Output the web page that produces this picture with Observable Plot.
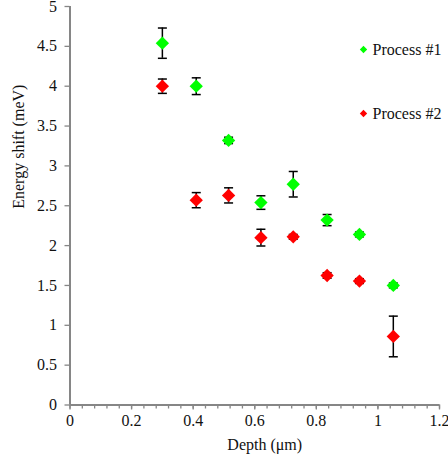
<!DOCTYPE html>
<html><head><meta charset="utf-8">
<script src="https://cdn.jsdelivr.net/npm/d3@7"></script>
<script src="https://cdn.jsdelivr.net/npm/@observablehq/plot@0.6"></script>
<style>body{margin:0;background:#fff}</style>
</head><body><div id="chart"></div>
<script>
const depth = [0.30, 0.41, 0.515, 0.62, 0.725, 0.835, 0.94, 1.05];
const process1 = [4.54, 4.00, 3.32, 2.54, 2.77, 2.32, 2.14, 1.50];
const process1Err = [0.19, 0.105, 0.04, 0.085, 0.16, 0.07, 0.03, 0.03];
const process2 = [4.00, 2.57, 2.63, 2.10, 2.11, 1.625, 1.555, 0.86];
const process2Err = [0.09, 0.095, 0.095, 0.105, 0.03, 0.035, 0.03, 0.255];
const seriesNames = ["Process #1", "Process #2"];
const seriesColors = ["#00ff00", "#ff0000"];
const xTicks = [0, 0.2, 0.4, 0.6, 0.8, 1, 1.2];
const yTicks = [0, 0.5, 1, 1.5, 2, 2.5, 3, 3.5, 4, 4.5, 5];
const xMinorTicks = d3.range(0, 31).map(i => +(i * 0.04).toFixed(2));

const rows = [];
depth.forEach((d, i) => rows.push({depth: d, value: process1[i], err: process1Err[i], series: seriesNames[0]}));
depth.forEach((d, i) => rows.push({depth: d, value: process2[i], err: process2Err[i], series: seriesNames[1]}));

const capSymbol = {draw(ctx, size) { const r = Math.sqrt(size / Math.PI); ctx.moveTo(-r, 0); ctx.lineTo(r, 0); }};
const axisColor = "#868686";
const textColor = "#111";
const font = "'Liberation Serif', 'Times New Roman', serif";

const chart = Plot.plot({
  width: 448, height: 459,
  marginLeft: 69.5, marginRight: 9, marginTop: 6, marginBottom: 54.5,
  style: {fontFamily: font, fontSize: "16px", color: textColor, background: "white", overflow: "visible"},
  x: {domain: [0, 1.2]},
  y: {domain: [0, 5]},
  color: {domain: seriesNames, range: seriesColors},
  marks: [
    Plot.axisX(xMinorTicks, {tickSize: 4, text: null, stroke: axisColor, strokeWidth: 1.3, label: null}),
    Plot.axisX(xTicks, {tickSize: 5, tickPadding: 5, stroke: axisColor, strokeWidth: 1.3, tickFormat: d => String(d), label: null, fill: textColor, fontSize: 16}),
    Plot.axisY(yTicks, {tickSize: 5, tickPadding: 8, stroke: axisColor, strokeWidth: 1.3, tickFormat: d => String(d), label: null, fill: textColor, fontSize: 16}),
    Plot.ruleY([0], {stroke: axisColor, strokeWidth: 2}),
    Plot.ruleX([0], {stroke: axisColor, strokeWidth: 2}),
    Plot.ruleX(rows, {x: "depth", y1: d => d.value - d.err, y2: d => d.value + d.err, stroke: "#000", strokeWidth: 1.5}),
    Plot.dot(rows, {x: "depth", y: d => d.value - d.err, symbol: capSymbol, r: 4.5, stroke: "#000", strokeWidth: 1.5}),
    Plot.dot(rows, {x: "depth", y: d => d.value + d.err, symbol: capSymbol, r: 4.5, stroke: "#000", strokeWidth: 1.5}),
    Plot.dot(rows, {x: "depth", y: "value", fill: "series", symbol: "diamond2", r: 6}),
    Plot.text(["Depth (μm)"], {frameAnchor: "bottom", dx: 10, dy: 40, lineAnchor: "middle", fill: textColor, fontSize: 16}),
    Plot.text(["Energy shift (meV)"], {frameAnchor: "left", dx: -51.5, dy: 3, rotate: -90, lineAnchor: "middle", fill: textColor, fontSize: 16}),
    Plot.dot([seriesNames[0]], {frameAnchor: "top-left", dx: 293.5, dy: 43, fill: seriesColors[0], symbol: "diamond2", r: 3.3}),
    Plot.text([seriesNames[0]], {frameAnchor: "top-left", dx: 302.5, dy: 43, textAnchor: "start", lineAnchor: "middle", fill: textColor, fontSize: 16}),
    Plot.dot([seriesNames[1]], {frameAnchor: "top-left", dx: 293.5, dy: 107, fill: seriesColors[1], symbol: "diamond2", r: 3.3}),
    Plot.text([seriesNames[1]], {frameAnchor: "top-left", dx: 302.5, dy: 107, textAnchor: "start", lineAnchor: "middle", fill: textColor, fontSize: 16})
  ]
});
document.getElementById("chart").appendChild(chart);
</script>
</body></html>
